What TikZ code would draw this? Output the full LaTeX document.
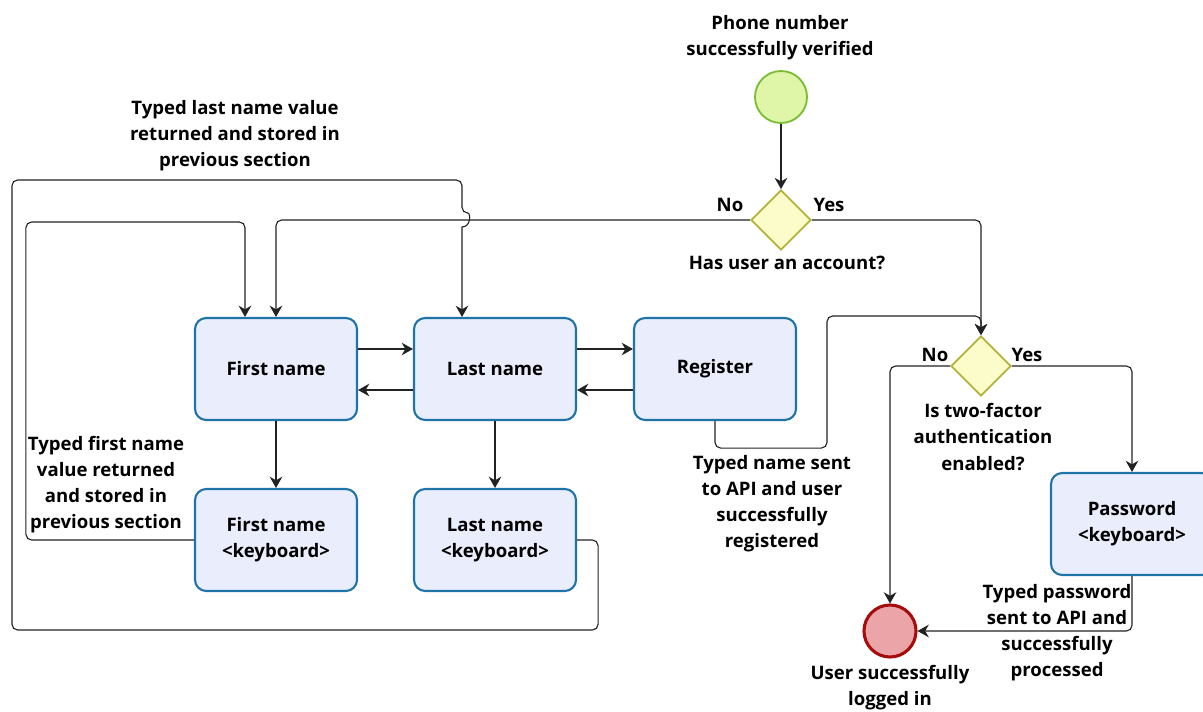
\documentclass[tikz,border=0pt]{standalone}
\usepackage{fontspec}
\setmainfont{Open Sans}
\usetikzlibrary{arrows.meta,positioning,shapes.geometric,calc}
\definecolor{boxfill}{HTML}{E9EDFC}
\definecolor{boxline}{HTML}{1F73A8}
\definecolor{gatefill}{HTML}{FCFCCB}
\definecolor{gateline}{HTML}{B2B23A}
\definecolor{startfill}{HTML}{DFF6A9}
\definecolor{startline}{HTML}{7ABD32}
\definecolor{endfill}{HTML}{EBA5A9}
\definecolor{endline}{HTML}{A50D0D}
\definecolor{flowline}{HTML}{222222}

\begin{document}
\begin{tikzpicture}[x=0.025cm, y=-0.025cm, >=Stealth,
  every node/.style={font=\fontsize{13.2}{18.5}\selectfont\bfseries, align=center},
  task/.style={draw=boxline, fill=boxfill, line width=1.5pt, rounded corners=8pt,
    minimum width=4.05cm, minimum height=2.55cm},
  gate/.style={diamond, draw=gateline, fill=gatefill, line width=1.3pt,
    minimum width=1.5cm, minimum height=1.5cm, inner sep=0pt},
  event/.style={circle, minimum size=1.3cm, inner sep=0pt},
  flow/.style={draw=flowline, line width=0.8pt, rounded corners=4pt,
    -{Stealth[length=8pt,width=9pt]}}]
  \useasboundingbox (0,0) rectangle (1203,711);

  % events and gates
  \node[event, draw=startline, fill=startfill, line width=1.3pt] (start) at (781,97) {};
  \node[gate] (acc) at (781,220) {};
  \node[gate] (tfa) at (981,366) {};
  \node[event, draw=endline, fill=endfill, line width=2.2pt] (done) at (890,631) {};

  % tasks
  \node[task] (fn) at (276,369) {First name};
  \node[task] (ln) at (495,369) {Last name};
  \node[task] (reg) at (715,369) {Register};
  \node[task] (fnk) at (276,540) {First name\\<keyboard>};
  \node[task] (lnk) at (495,540) {Last name\\<keyboard>};
  \node[task] (pwk) at (1132,524) {Password\\<keyboard>};

  % labels
  \node (t_start) at (780,38) {Phone number\\successfully verified};
  \node (t_acc) at (787,263) {Has user an account?};
  \node (t_no1) at (730,205) {No};
  \node (t_yes1) at (829,205) {Yes};
  \node (t_tfa) at (983,437) {Is two-factor\\authentication\\enabled?};
  \node (t_no2) at (935,355) {No};
  \node (t_yes2) at (1027,355) {Yes};
  \node (t_lastret) at (235,136) {Typed last name value\\returned and stored in\\previous section};
  \node (t_firstret) at (106,485) {Typed first name\\value returned\\and stored in\\previous section};
  \node (t_reg) at (772,504) {Typed name sent\\to API and user\\successfully\\registered};
  \node (t_pw) at (1057,633) {Typed password\\sent to API and\\successfully\\processed};
  \node (t_done) at (890,688) {User successfully\\logged in};

  % connectors
  \draw[flow] (start) -- (acc);
  \draw[flow] (acc.west) -| (fn.north);
  \draw[flow] (acc.east) -| (tfa.north);
  \draw[flow] ($(fn.east)+(0,-20)$) -- ($(ln.west)+(0,-20)$);
  \draw[flow] ($(ln.west)+(0,21)$) -- ($(fn.east)+(0,21)$);
  \draw[flow] ($(ln.east)+(0,-20)$) -- ($(reg.west)+(0,-20)$);
  \draw[flow] ($(reg.west)+(0,21)$) -- ($(ln.east)+(0,21)$);
  \draw[flow] (fn) -- (fnk);
  \draw[flow] (ln) -- (lnk);
  \draw[flow] (fnk.west) -- ++(-168,0) |- (245,222) -- ($(fn.north)+(-31,0)$);
  \draw[flow] (lnk.east) -- ++(21,0) |- (12,630) |- (462,180) -- (462,213)
    [sharp corners] .. controls (471,213) and (471,227) .. (462,227)
    [rounded corners=4pt] -- ($(ln.north)+(-33,0)$);
  \draw[flow] (reg.south) -- ++(0,27) -| (827,316) -| (tfa.north);
  \draw[flow] (tfa.west) -| (done.north);
  \draw[flow] (tfa.east) -| (pwk.north);
  \draw[flow] (pwk.south) |- (done.east);
\end{tikzpicture}
\end{document}
